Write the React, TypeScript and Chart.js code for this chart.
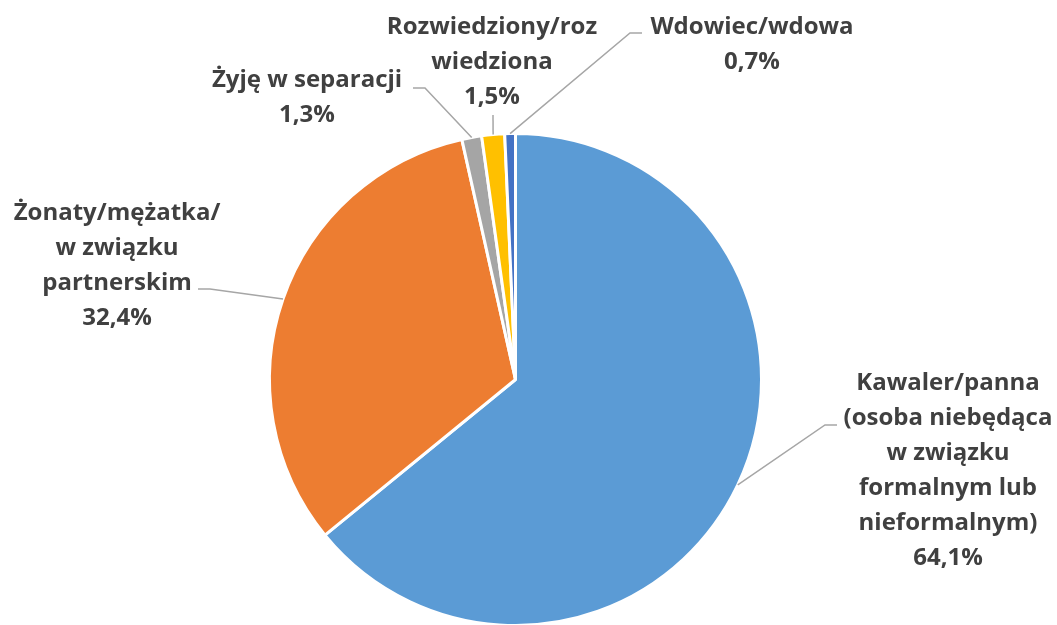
import React, { useEffect, useRef } from "react";
import { Chart, registerables } from "chart.js";

Chart.register(...registerables);

const categories = [
  "Kawaler/panna (osoba niebędąca w związku formalnym lub nieformalnym)",
  "Żonaty/mężatka/ w związku partnerskim",
  "Żyję w separacji",
  "Rozwiedziony/rozwiedziona",
  "Wdowiec/wdowa",
];
const values = [64.1, 32.4, 1.3, 1.5, 0.7];
const labelLines = [
  ["Kawaler/panna", "(osoba niebędąca", "w związku", "formalnym lub", "nieformalnym)"],
  ["Żonaty/mężatka/", "w związku", "partnerskim"],
  ["Żyję w separacji"],
  ["Rozwiedziony/roz", "wiedziona"],
  ["Wdowiec/wdowa"],
];
const colors = ["#5B9BD5", "#ED7D31", "#A5A5A5", "#FFC000", "#4472C4"];

// label layout: text centre x, first line y, leader line points after the arc edge
const labelLayout = [
  { x: 948, y: 383, path: [[825, 425], [837, 425]] },
  { x: 117, y: 213, path: [[210, 289], [198, 289]] },
  { x: 307, y: 80, path: [[425, 88], [413, 88]] },
  { x: 492, y: 27, path: [[493, 115]] },
  { x: 752, y: 27, path: [[630, 33], [642, 33]] },
];
const LINE_H = 35;
const FONT = "bold 24px 'Open Sans', Lato, sans-serif";

const labelPlugin = {
  id: "pieLabels",
  afterDraw(chart: any) {
    const ctx = chart.ctx;
    const meta = chart.getDatasetMeta(0);
    ctx.save();
    meta.data.forEach((arc: any, i: number) => {
      const p = arc.getProps(["x", "y", "startAngle", "endAngle", "outerRadius"], true);
      const mid = (p.startAngle + p.endAngle) / 2;
      const sx = p.x + Math.cos(mid) * p.outerRadius;
      const sy = p.y + Math.sin(mid) * p.outerRadius;
      const lay = labelLayout[i];
      ctx.strokeStyle = "#A6A6A6";
      ctx.lineWidth = 1.5;
      ctx.beginPath();
      ctx.moveTo(sx, sy);
      lay.path.forEach((pt) => ctx.lineTo(pt[0], pt[1]));
      ctx.stroke();
      const lines = [...labelLines[i], values[i].toFixed(1).replace(".", ",") + "%"];
      ctx.fillStyle = "#404040";
      ctx.font = FONT;
      ctx.textAlign = "center";
      ctx.textBaseline = "middle";
      lines.forEach((t, k) => ctx.fillText(t, lay.x, lay.y + k * LINE_H));
    });
    ctx.restore();
  },
};

export default function App() {
  const ref = useRef<HTMLCanvasElement>(null);
  useEffect(() => {
    document.body.style.margin = "0";
    document.body.style.overflow = "hidden";
    const chart = new Chart(ref.current!, {
      type: "pie",
      data: {
        labels: categories,
        datasets: [
          {
            data: values,
            backgroundColor: colors,
            borderColor: "#FFFFFF",
            borderWidth: 3,
          },
        ],
      },
      options: {
        responsive: false,
        animation: false,
        layout: { padding: { left: 268, top: 132, right: 294, bottom: 13 } },
        plugins: { legend: { display: false }, tooltip: { enabled: false } },
      },
      plugins: [labelPlugin],
    });
    return () => chart.destroy();
  }, []);
  return (
    <div style={{ width: 1057, height: 640, background: "#fff" }}>
      <canvas ref={ref} width={1057} height={640} style={{ display: "block" }} />
    </div>
  );
}
